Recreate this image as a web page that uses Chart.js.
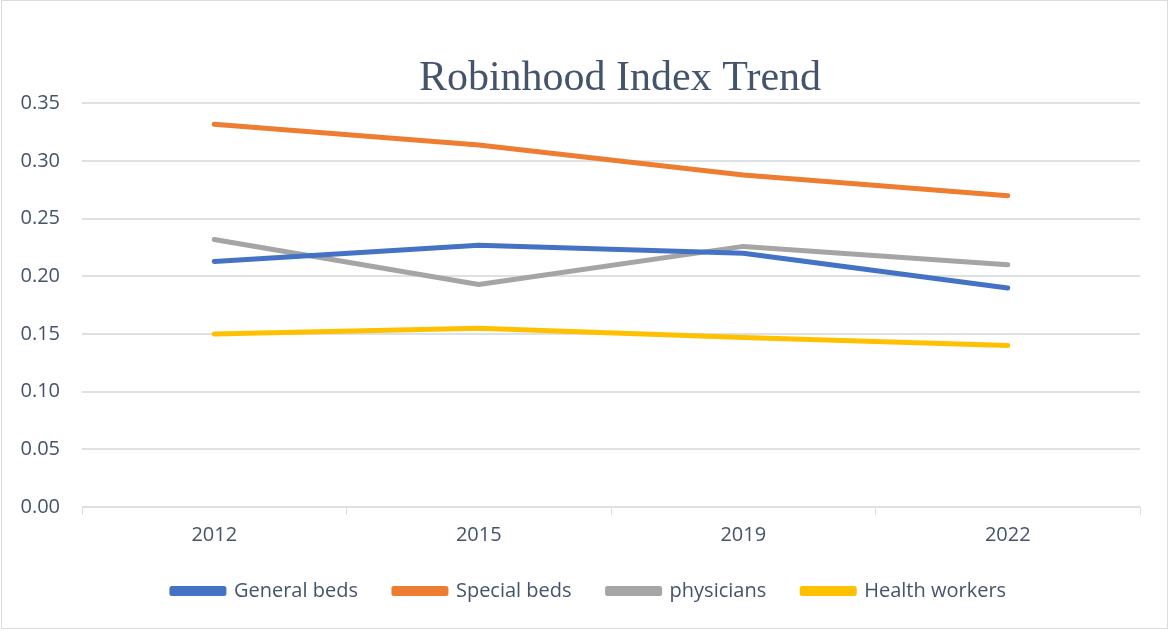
<!DOCTYPE html>
<html>
<head>
<meta charset="utf-8">
<script src="https://cdn.jsdelivr.net/npm/chart.js@4/dist/chart.umd.min.js"></script>
<style>
  html, body { margin: 0; padding: 0; background: #fff; }
  #wrap { width: 1168px; height: 631px; position: relative; }
</style>
</head>
<body>
<div id="wrap"><canvas id="c" width="1168" height="631"></canvas></div>
<script>
const categories = ['2012', '2015', '2019', '2022'];
const generalBeds = [0.213, 0.227, 0.220, 0.190];
const specialBeds = [0.332, 0.314, 0.288, 0.270];
const physicians = [0.232, 0.193, 0.226, 0.210];
const healthWorkers = [0.150, 0.155, 0.147, 0.140];
const yTicks = [0, 0.05, 0.10, 0.15, 0.20, 0.25, 0.30, 0.35];

const textColor = '#44546A';
const gridColor = '#dde1e6';

const frame = {
  id: 'frame',
  afterLayout(chart) {
    const lg = chart.legend;
    if (lg) { lg.left += 10; lg.right += 10; }
    const t = chart.titleBlock;
    if (t) { t.left += 9; t.right += 9; t.top += 2; t.bottom += 2; }
  },
  beforeDraw(chart) {
    const ctx = chart.ctx;
    ctx.save();
    ctx.fillStyle = '#fff';
    ctx.fillRect(0, 0, chart.width, chart.height);
    ctx.strokeStyle = '#d9dde3';
    ctx.lineWidth = 1;
    ctx.strokeRect(1.5, 0.5, chart.width - 2, chart.height - 3);
    ctx.restore();
  }
};

function ds(label, data, color) {
  return {
    label, data,
    borderColor: color, backgroundColor: color,
    borderWidth: 5, pointRadius: 0, pointHoverRadius: 0,
    tension: 0, borderCapStyle: 'round', borderJoinStyle: 'round', fill: false
  };
}

new Chart(document.getElementById('c'), {
  type: 'line',
  data: {
    labels: categories,
    datasets: [
      ds('General beds', generalBeds, '#4472C4'),
      ds('Special beds', specialBeds, '#ED7D31'),
      ds('physicians', physicians, '#A5A5A5'),
      ds('Health workers', healthWorkers, '#FFC000')
    ]
  },
  options: {
    responsive: false,
    animation: false,
    events: [],
    layout: { padding: { left: 18, right: 28, top: 0, bottom: 20 } },
    font: { family: "'Open Sans', 'Noto Sans', sans-serif" },
    plugins: {
      title: {
        display: true,
        text: 'Robinhood Index Trend',
        color: textColor,
        fullSize: false,
        font: { family: "'Liberation Serif', 'DejaVu Serif', serif", size: 42, weight: 'normal' },
        padding: { top: 52, bottom: 1 }
      },
      legend: {
        position: 'bottom',
        labels: {
          color: textColor,
          font: { family: "'Open Sans', 'Noto Sans', sans-serif", size: 20 },
          boxWidth: 52,
          boxHeight: 5,
          padding: 36
        }
      },
      tooltip: { enabled: false }
    },
    scales: {
      x: {
        offset: true,
        grid: { offset: true, drawOnChartArea: false, drawTicks: true, tickLength: 8, color: gridColor },
        border: { color: gridColor },
        ticks: { color: textColor, font: { size: 20 }, padding: 8 },
        afterFit(axis) { axis.height -= 10; }
      },
      y: {
        min: 0, max: 0.35,
        afterBuildTicks(axis) { axis.ticks = yTicks.map(v => ({ value: v })); },
        grid: { color: gridColor, drawTicks: false, lineWidth: 2 },
        border: { display: false },
        ticks: { color: textColor, font: { size: 20 }, padding: 22, callback: v => Number(v).toFixed(2) },
        afterFit(axis) { axis.width = 64; }
      }
    }
  },
  plugins: [frame]
});
</script>
</body>
</html>
